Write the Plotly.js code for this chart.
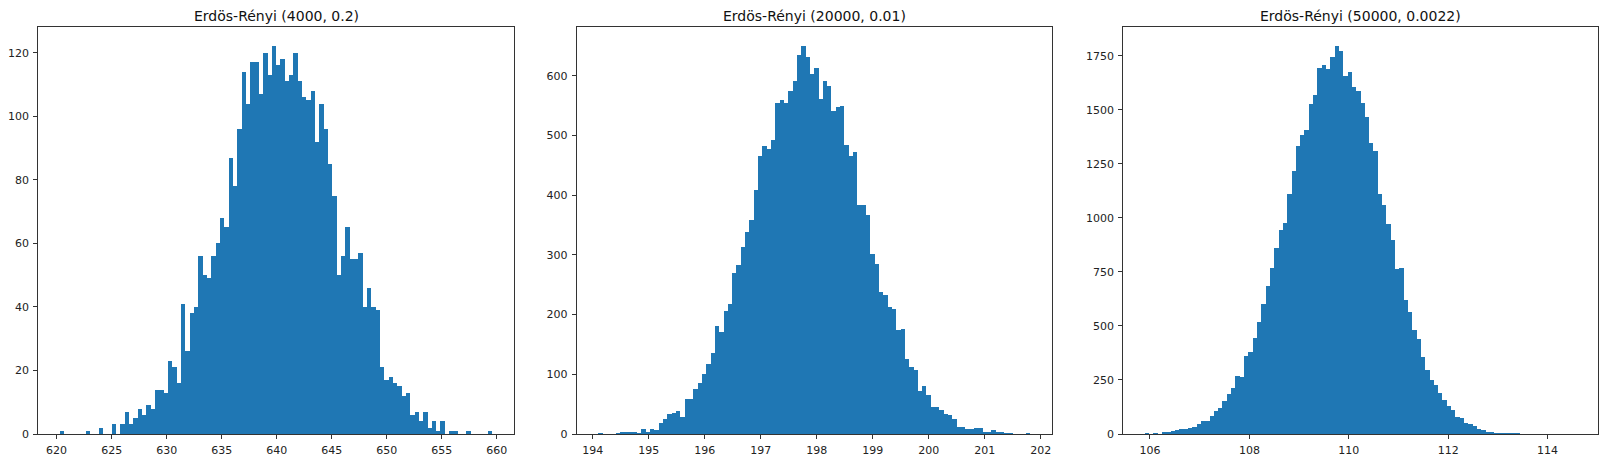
<!DOCTYPE html>
<html><head><meta charset="utf-8">
<script src="https://cdn.plot.ly/plotly-3.0.1.min.js"></script>
<style>html,body{margin:0;padding:0;background:#fff;}#chart{width:1615px;height:473px;}</style>
</head><body><div id="chart"></div>
<script>
// ---- data ----
const titles = ["Erdös-Rényi (4000, 0.2)", "Erdös-Rényi (20000, 0.01)", "Erdös-Rényi (50000, 0.0022)"];

// histogram 1: data min / max (bin range) and the 100 bin counts
const range1 = [620.3, 659.6];
const counts1 = [1,0,0,0,0,0,1,0,0,2, 0,0,3,0,3,7,3,5,8,6, 9,8,14,14,13,23,21,16,41,26,
  38,40,56,50,49,56,60,68,65,87, 78,96,114,104,117,117,107,120,113,122,
  116,118,111,113,120,111,106,105,108,92, 104,96,85,75,50,56,65,55,55,57,
  40,46,40,39,21,17,18,16,15,12, 13,6,7,4,7,2,4,1,4,0, 1,1,0,0,1,0,0,0,0,1];
const ticks1 = [620,625,630,635,640,645,650,655,660];
const yticks1 = [0,20,40,60,80,100,120];

// histogram 2
const range2 = [194.10, 201.81];
const counts2 = [2,0,0,0,2,4,4,4,4,2, 8,4,8,6,19,25,33,36,38,29, 58,58,75,86,100,117,136,181,170,206,
  217,269,283,313,338,358,409,466,483,477, 492,555,559,555,574,591,634,649,632,603,
  613,561,591,582,540,547,550,484,466,473, 384,384,367,302,285,238,232,213,209,174,
  176,125,112,107,72,81,66,46,46,41, 33,31,25,11,12,8,8,10,10,3, 4,6,3,4,2,2,0,0,0,2];
const ticks2 = [194,195,196,197,198,199,200,201,202];
const yticks2 = [0,100,200,300,400,500,600];

// histogram 3
const range3 = [105.897, 114.574];
const counts3 = [5,0,5,2,10,10,12,17,22,22, 28,34,48,60,62,82,108,122,152,185,
  215,270,265,362,380,445,519,600,685,770, 859,945,976,1108,1216,1331,1382,1404,1527,1568,
  1692,1708,1690,1742,1793,1770,1655,1676,1604,1585, 1533,1465,1345,1308,1108,1059,970,896,763,767,
  622,566,480,438,354,294,252,225,189,155, 131,111,80,74,52,46,38,22,18,9,
  8,6,6,4,4,4,4,0,0,0, 0,0,0,0,0,0,0,0,0,1];
const ticks3 = [106,108,110,112,114];
const yticks3 = [0,250,500,750,1000,1250,1500,1750];

// ---- build chart ----
const W = 1615;
const domains = [[38.3/W, 514/W], [576.7/W, 1051.7/W], [1123.3/W, 1597.7/W]];
const sets = [
  {r: range1, c: counts1, xt: ticks1, yt: yticks1},
  {r: range2, c: counts2, xt: ticks2, yt: yticks2},
  {r: range3, c: counts3, xt: ticks3, yt: yticks3}
];
const tickFont = {family: 'DejaVu Sans, sans-serif', size: 11, color: '#222'};
const traces = [];
const layout = {
  width: 1615, height: 473,
  margin: {l: 0, r: 0, t: 27, b: 39, pad: 0},
  paper_bgcolor: '#fff', plot_bgcolor: '#fff',
  showlegend: false, bargap: 0,
  annotations: []
};
sets.forEach((s, k) => {
  const n = s.c.length;
  const w = (s.r[1] - s.r[0]) / n;
  const xs = s.c.map((_, i) => s.r[0] + (i + 0.5) * w);
  const sfx = k === 0 ? '' : String(k + 1);
  traces.push({
    type: 'bar', x: xs, y: s.c, width: w,
    xaxis: 'x' + sfx, yaxis: 'y' + sfx,
    marker: {color: '#1f77b4', line: {width: 0}},
    hoverinfo: 'x+y'
  });
  const span = s.r[1] - s.r[0];
  const ymax = Math.max(...s.c) * 1.05;
  const common = {
    showline: true, mirror: true, linecolor: '#333', linewidth: 1,
    ticks: 'outside', ticklen: 4, tickwidth: 1, tickcolor: '#333',
    showgrid: false, zeroline: false, tickfont: tickFont, fixedrange: true
  };
  layout['xaxis' + sfx] = Object.assign({}, common, {
    domain: domains[k], anchor: 'y' + sfx,
    range: [s.r[0] - 0.05 * span, s.r[1] + 0.05 * span],
    tickmode: 'array', tickvals: s.xt, ticktext: s.xt.map(String),
    ticklabelstandoff: 2
  });
  layout['yaxis' + sfx] = Object.assign({}, common, {
    domain: [0, 1], anchor: 'x' + sfx,
    range: [0, ymax],
    tickmode: 'array', tickvals: s.yt, ticktext: s.yt.map(String),
    ticklabelstandoff: 2
  });
  layout.annotations.push({
    text: titles[k], xref: 'paper', yref: 'paper',
    x: (domains[k][0] + domains[k][1]) / 2, y: 1,
    xanchor: 'center', yanchor: 'bottom', yshift: 1, showarrow: false,
    font: {family: 'DejaVu Sans, sans-serif', size: 14, color: '#111'}
  });
});
Plotly.newPlot('chart', traces, layout, {staticPlot: true, displayModeBar: false});
</script>
</body></html>
